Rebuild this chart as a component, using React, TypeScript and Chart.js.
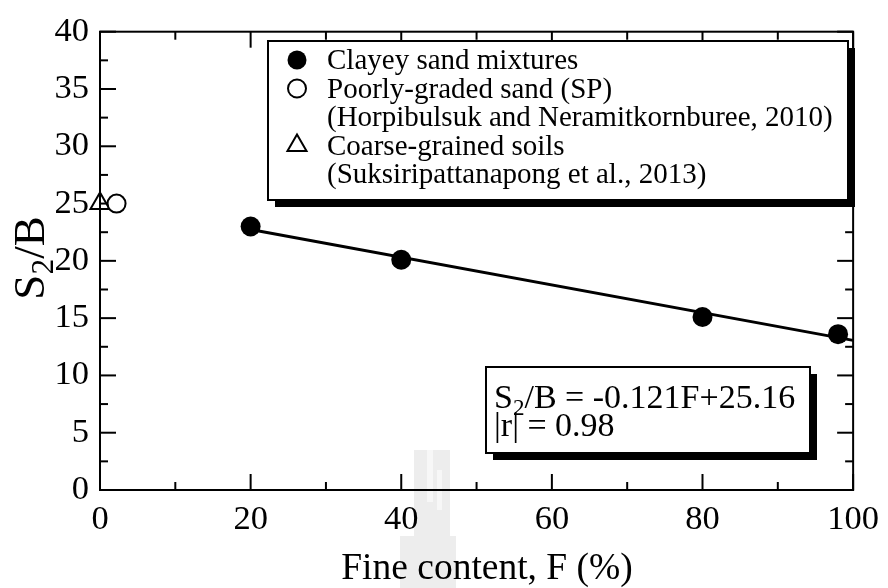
import React, { useEffect, useRef } from 'react';
import { Chart, registerables } from 'chart.js';

Chart.register(...registerables);

// Measured settlement ratio versus fine content
const fineContent = [20, 40, 80, 98];
const s2bClayey = [23.0, 20.1, 15.1, 13.6];

// Reference points from earlier studies
const fineSP = [2.2];
const s2bSP = [25.0];
const fineCoarse = [0];
const s2bCoarse = [25.0];

// Linear fit S2/B = a·F + b over the clayey sand range
const fitSlope = -0.121;
const fitIntercept = 25.16;
const fitRange = [20, 100];
const fitR = 0.98;

const legendRows = [
  { marker: 'filled', text: 'Clayey sand mixtures' },
  { marker: 'open', text: 'Poorly-graded sand (SP)' },
  { marker: 'none', text: '(Horpibulsuk and Neramitkornburee, 2010)' },
  { marker: 'triangle', text: 'Coarse-grained soils' },
  { marker: 'none', text: '(Suksiripattanapong et al., 2013)' },
];

const xTitle = 'Fine content, F (%)';

const SERIF = '"Liberation Serif", "Times New Roman", Times, serif';

type Part = { t: string; sub?: boolean };

function drawParts(ctx: CanvasRenderingContext2D, parts: Part[], x: number, y: number, size: number, align: 'left' | 'center' = 'left', subScale = 0.68) {
  const subSize = size * subScale;
  const widths = parts.map((p) => {
    ctx.font = `${p.sub ? subSize : size}px ${SERIF}`;
    return ctx.measureText(p.t).width;
  });
  const total = widths.reduce((a, b) => a + b, 0);
  let cx = align === 'center' ? x - total / 2 : x;
  ctx.textAlign = 'left';
  ctx.textBaseline = 'alphabetic';
  parts.forEach((p, i) => {
    ctx.font = `${p.sub ? subSize : size}px ${SERIF}`;
    ctx.fillText(p.t, cx, p.sub ? y + size * 0.2 : y);
    cx += widths[i];
  });
}

function shadowBox(ctx: CanvasRenderingContext2D, x: number, y: number, w: number, h: number, off: number) {
  ctx.fillStyle = '#000';
  ctx.fillRect(x + off, y + off, w, h);
  ctx.fillStyle = '#fff';
  ctx.fillRect(x, y, w, h);
  ctx.strokeStyle = '#000';
  ctx.lineWidth = 2;
  ctx.strokeRect(x, y, w, h);
}

// faint page watermark below the axis
function drawWatermark(ctx: CanvasRenderingContext2D) {
  ctx.save();
  ctx.fillStyle = '#ededed';
  ctx.fillRect(414, 450, 36, 138);
  ctx.fillRect(400, 536, 56, 52);
  ctx.fillStyle = '#f7f7f7';
  ctx.fillRect(427, 450, 6, 52);
  ctx.fillRect(437, 470, 5, 40);
  ctx.restore();
}

const framePlugin = {
  id: 'frameAndNotes',
  beforeDraw(chart: any) {
    drawWatermark(chart.ctx);
  },
  beforeDatasetsDraw(chart: any) {
    const { ctx, chartArea: a, scales } = chart;
    const xs = scales.x;
    const ys = scales.y;
    ctx.save();
    ctx.strokeStyle = '#000';
    ctx.lineWidth = 2;
    ctx.lineCap = 'butt';
    const seg = (x1: number, y1: number, x2: number, y2: number) => {
      ctx.beginPath();
      ctx.moveTo(x1, y1);
      ctx.lineTo(x2, y2);
      ctx.stroke();
    };
    // inward ticks on all four sides
    for (let v = xs.min; v <= xs.max + 1e-6; v += 10) {
      const px = xs.getPixelForValue(v);
      const len = Math.round(v) % 20 === 0 ? 16 : 8;
      seg(px, a.bottom, px, a.bottom - len);
      seg(px, a.top, px, a.top + len);
    }
    for (let v = ys.min; v <= ys.max + 1e-6; v += 2.5) {
      const py = ys.getPixelForValue(v);
      const len = Math.abs(v % 5) < 1e-6 ? 16 : 8;
      seg(a.left, py, a.left + len, py);
      seg(a.right, py, a.right - len, py);
    }
    ctx.strokeRect(a.left, a.top, a.right - a.left, a.bottom - a.top);
    ctx.restore();
  },
  afterDatasetsDraw(chart: any) {
    const { ctx, chartArea: a } = chart;
    ctx.save();

    // legend
    const lx = 268, ly = 41, lw = 580, lh = 159;
    shadowBox(ctx, lx, ly, lw, lh, 7);
    const rowStep = 28.5;
    legendRows.forEach((row, i) => {
      const base = 69 + i * rowStep;
      const my = base - 9;
      const mx = 297;
      ctx.lineWidth = 2;
      ctx.strokeStyle = '#000';
      ctx.fillStyle = '#000';
      if (row.marker === 'filled') {
        ctx.beginPath();
        ctx.arc(mx, my, 9.5, 0, Math.PI * 2);
        ctx.fill();
      } else if (row.marker === 'open') {
        ctx.beginPath();
        ctx.arc(mx, my, 9, 0, Math.PI * 2);
        ctx.stroke();
      } else if (row.marker === 'triangle') {
        const r = 11;
        ctx.beginPath();
        ctx.moveTo(mx, my - r);
        ctx.lineTo(mx + r * 0.866, my + r * 0.5);
        ctx.lineTo(mx - r * 0.866, my + r * 0.5);
        ctx.closePath();
        ctx.stroke();
      }
      ctx.fillStyle = '#000';
      ctx.font = `29px ${SERIF}`;
      ctx.textAlign = 'left';
      ctx.textBaseline = 'alphabetic';
      ctx.fillText(row.text, 327, base);
    });

    // regression note
    shadowBox(ctx, 486, 367, 324, 86, 7);
    ctx.fillStyle = '#000';
    const sign = fitSlope < 0 ? '-' : '+';
    drawParts(ctx, [
      { t: 'S' },
      { t: '2', sub: true },
      { t: `/B = ${sign}${Math.abs(fitSlope).toFixed(3)}F+${fitIntercept.toFixed(2)}` },
    ], 494, 408, 34);
    drawParts(ctx, [{ t: `|r| = ${fitR.toFixed(2)}` }], 494, 436, 34);

    // axis titles
    ctx.fillStyle = '#000';
    drawParts(ctx, [{ t: xTitle }], 487, 579, 37.5, 'center');
    ctx.translate(44, 258);
    ctx.rotate(-Math.PI / 2);
    drawParts(ctx, [{ t: 'S' }, { t: '2', sub: true }, { t: '/B' }], 0, 0, 45, 'center', 0.7);
    ctx.restore();
  },
};

export default function App() {
  const canvasRef = useRef<HTMLCanvasElement | null>(null);

  useEffect(() => {
    document.body.style.margin = '0';
    const canvas = canvasRef.current;
    if (!canvas) return;

    const chart = new Chart(canvas, {
      type: 'scatter',
      data: {
        datasets: [
          {
            label: 'Clayey sand mixtures',
            data: fineContent.map((f, i) => ({ x: f, y: s2bClayey[i] })),
            pointStyle: 'circle',
            pointRadius: 10,
            backgroundColor: '#000',
            borderColor: '#000',
            borderWidth: 0,
            clip: false,
          },
          {
            label: 'Poorly-graded sand (SP)',
            data: fineSP.map((f, i) => ({ x: f, y: s2bSP[i] })),
            pointStyle: 'circle',
            pointRadius: 9,
            backgroundColor: '#fff',
            borderColor: '#000',
            borderWidth: 2,
            clip: false,
          },
          {
            label: 'Coarse-grained soils',
            data: fineCoarse.map((f, i) => ({ x: f, y: s2bCoarse[i] })),
            pointStyle: 'triangle',
            pointRadius: 11,
            backgroundColor: 'rgba(0,0,0,0)',
            borderColor: '#000',
            borderWidth: 2,
            clip: false,
          },
          {
            label: 'Linear fit',
            data: fitRange.map((f) => ({ x: f, y: fitSlope * f + fitIntercept })),
            showLine: true,
            pointRadius: 0,
            borderColor: '#000',
            borderWidth: 3,
            clip: false,
          },
        ],
      },
      options: {
        responsive: false,
        animation: false,
        devicePixelRatio: 1,
        events: [],
        layout: { padding: { top: 24, right: 28, left: 0, bottom: 0 } },
        plugins: {
          legend: { display: false },
          tooltip: { enabled: false },
        },
        scales: {
          x: {
            type: 'linear',
            min: 0,
            max: 100,
            grid: { display: false, drawTicks: false },
            border: { display: false },
            ticks: {
              stepSize: 20,
              color: '#000',
              padding: 9,
              maxRotation: 0,
              font: { family: SERIF, size: 34.5 },
            },
            afterFit: (s: any) => {
              s.height = 98;
            },
          },
          y: {
            type: 'linear',
            min: 0,
            max: 40,
            grid: { display: false, drawTicks: false },
            border: { display: false },
            ticks: {
              stepSize: 5,
              color: '#000',
              padding: 11,
              font: { family: SERIF, size: 34.5 },
            },
            afterFit: (s: any) => {
              s.width = 100;
            },
          },
        },
      },
      plugins: [framePlugin],
    } as any);

    return () => chart.destroy();
  }, []);

  return (
    <div style={{ width: 888, height: 588 }}>
      <canvas ref={canvasRef} width={888} height={588} style={{ display: 'block' }} />
    </div>
  );
}
